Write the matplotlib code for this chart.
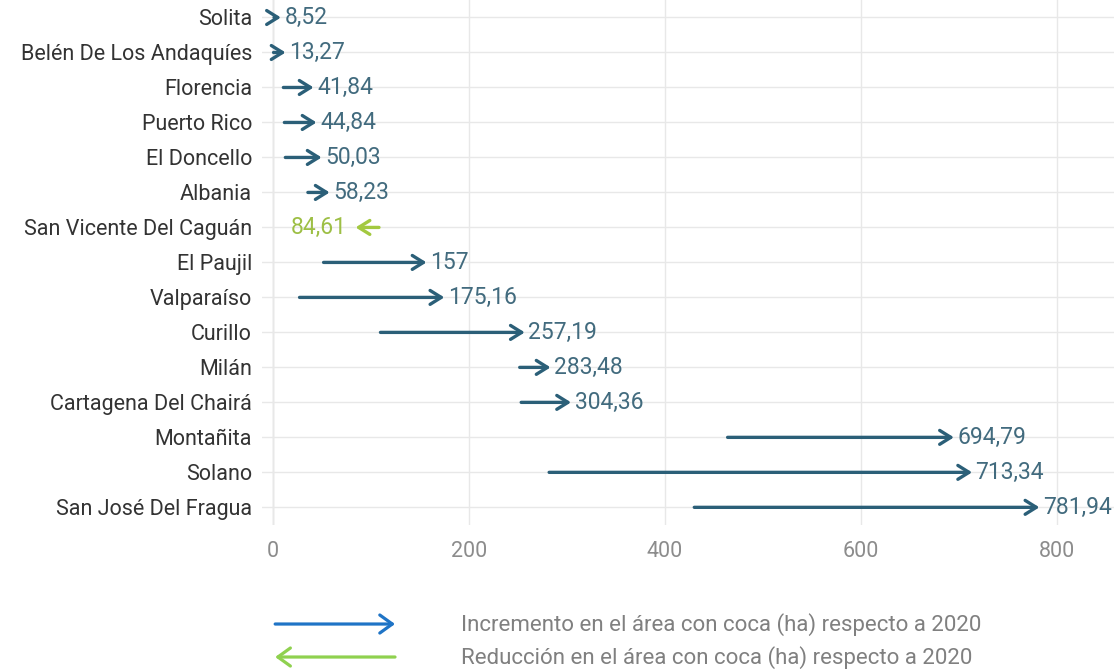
import matplotlib
matplotlib.use("Agg")
import matplotlib.pyplot as plt
from matplotlib.patches import FancyArrowPatch

# ------------------------------------------------------------------
# Datos: area con coca (ha) por municipio, 2020 -> 2021
# ------------------------------------------------------------------
municipios = ["Solita", "Belén De Los Andaquíes", "Florencia", "Puerto Rico",
              "El Doncello", "Albania", "San Vicente Del Caguán", "El Paujil",
              "Valparaíso", "Curillo", "Milán", "Cartagena Del Chairá",
              "Montañita", "Solano", "San José Del Fragua"]
area_2020 = [1.5, 1.0, 11.0, 12.0, 13.0, 36.0, 108.5, 52.0,
             27.5, 110.0, 252.0, 253.5, 464.0, 282.0, 430.0]
area_2021 = [8.52, 13.27, 41.84, 44.84, 50.03, 58.23, 84.61, 157.0,
             175.16, 257.19, 283.48, 304.36, 694.79, 713.34, 781.94]
etiquetas = ["8,52", "13,27", "41,84", "44,84", "50,03", "58,23", "84,61", "157",
             "175,16", "257,19", "283,48", "304,36", "694,79", "713,34", "781,94"]
xticks = [0, 200, 400, 600, 800]

leyenda = ["Incremento en el área con coca (ha) respecto a 2020",
           "Reducción en el área con coca (ha) respecto a 2020"]

C_SUBE = "#2b5f78"
C_SUBE_TXT = "#426b7e"
C_BAJA = "#a3c940"
C_BAJA_TXT = "#9dbf45"

plt.rcParams["font.family"] = ["Roboto", "DejaVu Sans"]

fig = plt.figure(figsize=(11.14, 6.72), dpi=100)
ax = fig.add_axes([0.235, 0.219, 0.765, 0.781])

for i, (a0, a1, lab) in enumerate(zip(area_2020, area_2021, etiquetas)):
    sube = a1 >= a0
    col = C_SUBE if sube else C_BAJA
    ax.annotate("", xy=(a1, i), xytext=(a0, i),
                arrowprops=dict(arrowstyle="->,head_length=0.8,head_width=0.5",
                                color=col, lw=2.4, shrinkA=0, shrinkB=0,
                                mutation_scale=10))
    if sube:
        ax.annotate(lab, xy=(a1, i), xytext=(2.5, 0), textcoords="offset points",
                    ha="left", va="center", fontsize=16.5, color=C_SUBE_TXT)
    else:
        ax.annotate(lab, xy=(a1, i), xytext=(-6, 0), textcoords="offset points",
                    ha="right", va="center", fontsize=16.5, color=C_BAJA_TXT)

ax.set_yticks(range(len(municipios)))
ax.set_yticklabels(municipios, fontsize=15.5, color="#333333")
ax.set_ylim(len(municipios) - 0.5, -0.5)
ax.set_xlim(-11, 858)
ax.set_xticks(xticks)
ax.set_xticklabels([str(t) for t in xticks], fontsize=15.5, color="#8c8c8c")
ax.tick_params(axis="y", length=0, pad=7)
ax.tick_params(axis="x", length=0, pad=12)
ax.grid(True, color="#e8e8e8", lw=1)
ax.set_axisbelow(True)
for s in ax.spines.values():
    s.set_visible(False)
ax.axvline(0, color="#d4d4d4", lw=1, zorder=0.5)

# ------------------------------------------------------------------
# Leyenda manual debajo del grafico
# ------------------------------------------------------------------
fig.add_artist(FancyArrowPatch(
    (0.247, 0.0714), (0.3546, 0.0714), transform=fig.transFigure,
    arrowstyle="->,head_length=0.9,head_width=0.65", mutation_scale=10,
    color="#1f74c6", lw=2.3, shrinkA=0, shrinkB=0))
fig.add_artist(FancyArrowPatch(
    (0.3546, 0.0223), (0.247, 0.0223), transform=fig.transFigure,
    arrowstyle="->,head_length=0.9,head_width=0.65", mutation_scale=10,
    color="#8fd14f", lw=2.3, shrinkA=0, shrinkB=0))
fig.text(0.4138, 0.0714, leyenda[0], ha="left", va="center", fontsize=16,
         color="#808080")
fig.text(0.4138, 0.0223, leyenda[1], ha="left", va="center", fontsize=16,
         color="#808080")

fig.savefig("out.png", dpi=100)
